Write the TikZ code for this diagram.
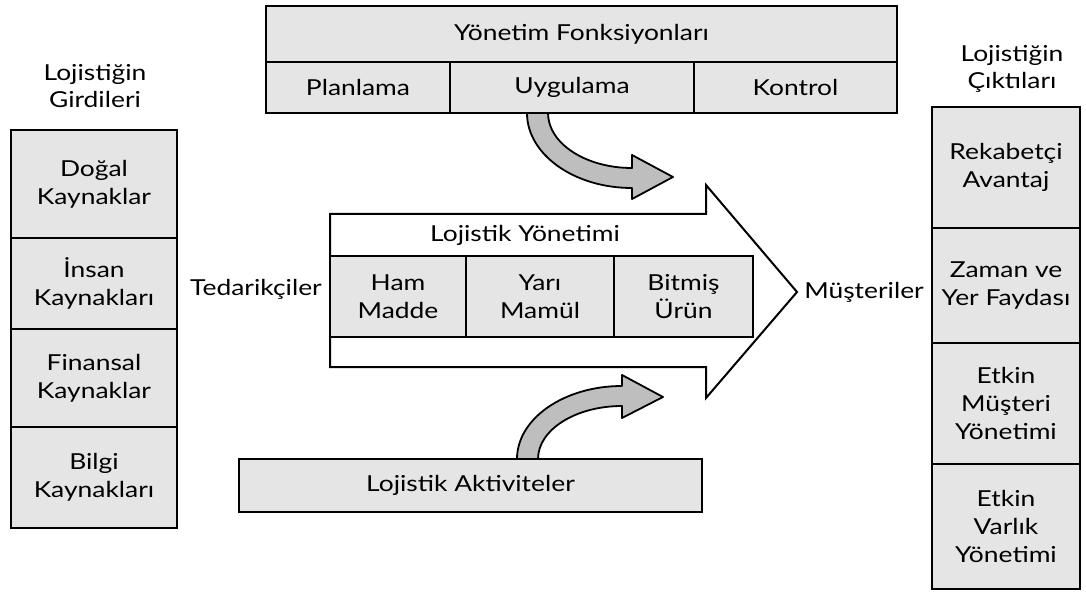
\documentclass[tikz,border=0pt]{standalone}
\usepackage{fontspec}
\setmainfont{Lato}[FakeStretch=1.2]
\definecolor{cellgray}{RGB}{229,229,229}
\definecolor{bendgray}{RGB}{190,190,190}

\begin{document}
\begin{tikzpicture}[x=1pt,y=-1pt]

    \tikzset{
      cell/.style={
        draw,
        line width=2.5pt,
        fill=cellgray,
        inner sep=0pt,
        align=center,
        anchor=center,
        font=\fontsize{22}{28}\selectfont,
      },
      plain/.style={
        inner sep=0pt,
        align=center,
        anchor=center,
        font=\fontsize{22}{27}\selectfont,
      },
      curvearrow/.style={
        draw,
        line width=1.8pt,
        fill=bendgray,
        line join=round,
      },
    }
    \useasboundingbox (0,0) rectangle (1086,593);

	% yonetim fonksiyonlari
	\node[cell, minimum width=631pt, minimum height=56pt] (yon) at (581.5,34) {Yönetim Fonksiyonları};
	\node[cell, minimum width=184pt, minimum height=51pt] (plan) at (358,87.5) {Planlama};
	\node[cell, minimum width=244pt, minimum height=51pt] (uyg) at (572,87.5) {Uygulama};
	\node[cell, minimum width=203pt, minimum height=51pt] (kont) at (795.5,87.5) {Kontrol};

	% girdiler
	\node[plain] (girdi) at (95,86) {Lojistiğin\\Girdileri};
	\node[cell, minimum width=166pt, minimum height=108pt] (dogal) at (94,184) {Doğal\\Kaynaklar};
	\node[cell, minimum width=166pt, minimum height=91pt] (insan) at (94,283.5) {İnsan\\Kaynakları};
	\node[cell, minimum width=166pt, minimum height=98pt] (finans) at (94,378) {Finansal\\Kaynaklar};
	\node[cell, minimum width=166pt, minimum height=101pt] (bilgi) at (94,477.5) {Bilgi\\Kaynakları};

	% ciktilar
	\node[plain] (cikti) at (1012,68.5) {Lojistiğin\\Çıktıları};
	\node[cell, minimum width=148pt, minimum height=121pt] (rek) at (1006,167.5) {Rekabetçi\\Avantaj};
	\node[cell, minimum width=148pt, minimum height=115pt] (zaman) at (1006,285.5) {Zaman ve\\Yer Faydası};
	\node[cell, minimum width=148pt, minimum height=121pt] (musy) at (1006,403.5) {Etkin\\Müşteri\\Yönetimi};
	\node[cell, minimum width=148pt, minimum height=125pt] (varlik) at (1006,526.5) {Etkin\\Varlık\\Yönetimi};

	% buyuk ok
	\draw[line width=2pt, fill=white, line join=miter] (330,214)--(706,214)--(706,185)--(797,292)--(706,398)--(706,367)--(330,367)--cycle;
	\node[plain] (lojy) at (525,235) {Lojistik Yönetimi};
	\node[cell, minimum width=136pt, minimum height=81pt] (ham) at (398,296.5) {Ham\\Madde};
	\node[cell, minimum width=148pt, minimum height=81pt] (yari) at (540,296.5) {Yarı\\Mamül};
	\node[cell, minimum width=139pt, minimum height=81pt] (bitmis) at (683.5,296.5) {Bitmiş\\Ürün};
	\node[plain] (ted) at (256,289) {Tedarikçiler};
	\node[plain] (mus) at (864,292) {Müşteriler};

	% aktiviteler
	\node[cell, minimum width=463pt, minimum height=53pt] (akt) at (470.5,485.5) {Lojistik Aktiviteler};

	% kivrik oklar
	\draw[curvearrow] (548,113) .. controls (548,143.4) and (585.6,168) .. (632,168)
	  -- (632,155) -- (673,177) -- (632,199) -- (632,188)
	  .. controls (574,188) and (527,154.4) .. (527,113) -- cycle;
	\draw[curvearrow] (538,459) .. controls (538,429.7) and (575.6,406) .. (622,406)
	  -- (622,418) -- (663,397) -- (622,375) -- (622,386)
	  .. controls (564,386) and (517,418.7) .. (517,459) -- cycle;

\end{tikzpicture}
\end{document}
